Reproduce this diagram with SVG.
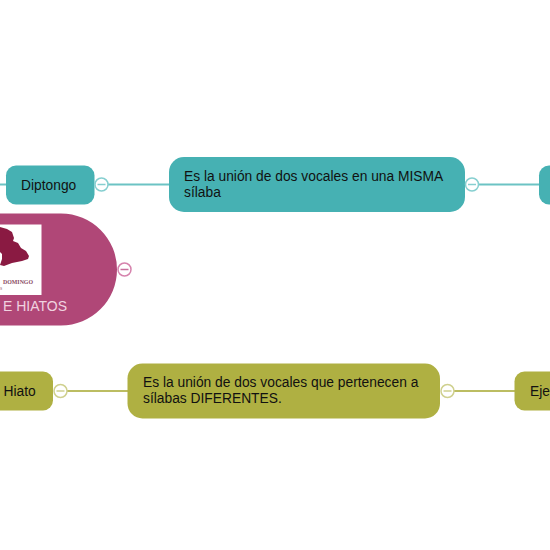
<svg xmlns="http://www.w3.org/2000/svg" width="550" height="550" viewBox="0 0 550 550">
<style>
text{font-family:"Liberation Sans",Arial,sans-serif;font-size:13.8px;fill:#111}
.t{fill:#46b1b3}.o{fill:#afb042}
.tl{stroke:#6cc3c4;stroke-width:2;fill:none}.ol{stroke:#bcbd62;stroke-width:2;fill:none}
.ct{fill:#fff;stroke:#86cfd0;stroke-width:1.5}.co{fill:#fff;stroke:#cfd08e;stroke-width:1.5}.cp{fill:#fff;stroke:#d683ad;stroke-width:1.5}
.mt{stroke:#86cfd0;stroke-width:1.5}.mo{stroke:#cfd08e;stroke-width:1.5}.mp{stroke:#c76f9c;stroke-width:1.5}
</style>
<g id="connectors">
<path class="tl" d="M0 184.500H6M108 184.500H169M479 184.500H539"/>
<path class="ol" d="M67 391H128M454 391H515"/>
</g>
<g id="root">
<path d="M0 213.500H61a56 56 0 0 1 0 112H0Z" fill="#b04777"/>
<rect x="0" y="224.500" width="41.500" height="70.500" fill="#fff"/>
<path d="M0 227L7 229L12 232L14 238L13 241L18 243L21 248L26 251L29 256L28 259L22 261L12 263L4 266L0 265L2 259L2 254L0 252Z" fill="#8a1a42"/>
<text x="3" y="284" textLength="30" lengthAdjust="spacingAndGlyphs" style="font-family:'Liberation Serif',serif;font-size:6px;font-weight:bold;fill:#8a4a62">DOMINGO</text>
<text x="0" y="289.500" style="font-family:'Liberation Serif',serif;font-size:4px;fill:#8a4a62">S</text>
<text x="3" y="311" style="fill:#f0d3e0;font-size:14px">E HIATOS</text>
<circle class="cp" cx="124.500" cy="269.500" r="6.500"/><path class="mp" d="M120.500 269.500H128.500"/>
</g>
<g id="diptongo">
<rect class="t" x="6" y="165.500" width="88.500" height="39" rx="10"/>
<text x="21" y="190">Diptongo</text>
<circle class="ct" cx="101.500" cy="184.500" r="6.500"/><path class="mt" d="M97.500 184.500H105.500"/>
</g>
<g id="def-diptongo">
<rect class="t" x="169" y="157" width="296" height="55" rx="15"/>
<text x="184" y="181">Es la unión de dos vocales en una MISMA</text>
<text x="184" y="197">sílaba</text>
<circle class="ct" cx="472" cy="184.500" r="6.500"/><path class="mt" d="M468 184.500H476"/>
</g>
<g id="ejemplo-diptongo">
<rect class="t" x="539" y="165.500" width="40" height="39" rx="10"/>
</g>
<g id="hiato">
<rect class="o" x="-30" y="371.500" width="83" height="39" rx="10"/>
<text x="3.500" y="396">Hiato</text>
<circle class="co" cx="60.500" cy="391" r="6.500"/><path class="mo" d="M56.500 391H64.500"/>
</g>
<g id="def-hiato">
<rect class="o" x="127.500" y="363.500" width="312.500" height="55" rx="15"/>
<text x="143" y="387">Es la unión de dos vocales que pertenecen a</text>
<text x="143" y="403">sílabas DIFERENTES.</text>
<circle class="co" cx="447.500" cy="391" r="6.500"/><path class="mo" d="M443.500 391H451.500"/>
</g>
<g id="ejemplo-hiato">
<rect class="o" x="514.500" y="371.500" width="80" height="39" rx="10"/>
<text x="530" y="396">Eje</text>
</g>
</svg>
